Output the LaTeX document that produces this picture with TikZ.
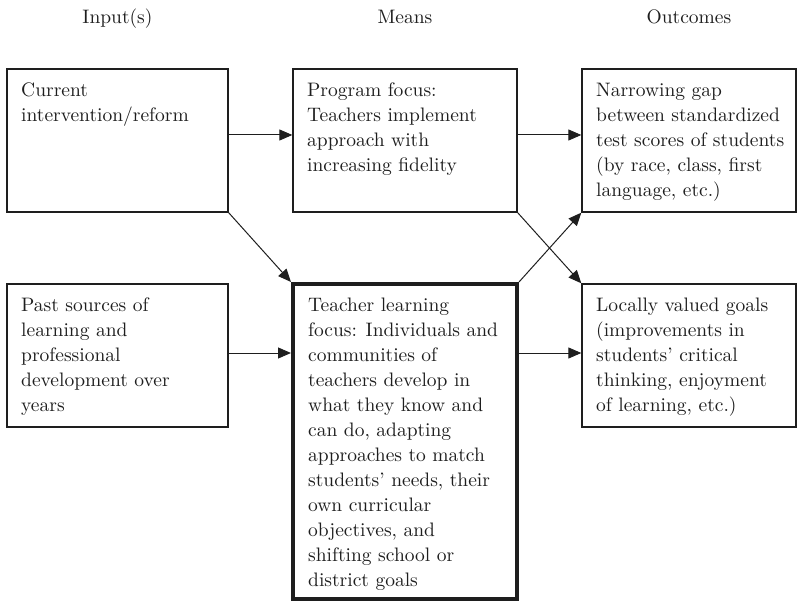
\documentclass[tikz,border=0pt]{standalone}
\usepackage{fontspec}
\setmainfont{lmroman10-regular.otf}
\usetikzlibrary{arrows.meta}
\definecolor{ink}{HTML}{1E1E1E}
\begin{document}
\begin{tikzpicture}[x=1pt,y=-1pt,
  txtfont/.style={font=\fontsize{19.5}{25}\selectfont, text=ink},
  box/.style={draw=ink, line width=1.3pt, inner sep=0pt},
  keybox/.style={draw=ink, line width=4pt, inner sep=0pt},
  txt/.style={txtfont, align=left, anchor=north west, inner sep=0pt},
  head/.style={txtfont, anchor=base, inner sep=0pt},
  arr/.style={draw=ink, line width=1pt, -{Triangle[length=13pt,width=11pt]}}]
\useasboundingbox (0,0) rectangle (800,609);

% column headings
\node[head] (h1) at (117.5,24) {Input(s)};
\node[head] (h2) at (405,24) {Means};
\node[head] (h3) at (689,24) {Outcomes};

% boxes
\node[box, minimum width=221pt, minimum height=143pt] (A) at (117.5,140.5) {};
\node[box, minimum width=224pt, minimum height=143pt] (B) at (405,140.5) {};
\node[box, minimum width=214pt, minimum height=143pt] (C) at (689,140.5) {};
\node[box, minimum width=221pt, minimum height=143pt] (D) at (117.5,355.5) {};
\node[keybox, minimum width=224pt, minimum height=315pt] (E) at (405,441.5) {};
\node[box, minimum width=214pt, minimum height=143pt] (F) at (689,355.5) {};

% box texts
\node[txt] (At) at (21,83) {Current\\intervention/reform};
\node[txt] (Bt) at (307,83) {Program focus:\\Teachers implement\\approach with\\increasing fidelity};
\node[txt] (Ct) at (596,83) {Narrowing gap\\between standardized\\test scores of students\\(by race, class, first\\language, etc.)};
\node[txt] (Dt) at (21,298) {Past sources of\\learning and\\professional\\development over\\years};
\node[txt] (Et) at (308,298) {Teacher learning\\focus: Individuals and\\communities of\\teachers develop in\\what they know and\\can do, adapting\\approaches to match\\students' needs, their\\own curricular\\objectives, and\\shifting school or\\district goals};
\node[txt] (Ft) at (596,298) {Locally valued goals\\(improvements in\\students' critical\\thinking, enjoyment\\of learning, etc.)};

% connectors
\coordinate (ta) at ([yshift=5.5pt]A.east);
\coordinate (td) at ([yshift=2.5pt]D.east);
\draw[arr] (ta) -- (ta -| B.west);
\draw[arr] (ta -| B.east) -- (ta -| C.west);
\draw[arr] (A.south east) -- (E.north west);
\draw[arr] (B.south east) -- (F.north west);
\draw[arr] (E.north east) -- (C.south west);
\draw[arr] (td) -- (td -| E.west);
\draw[arr] (td -| E.east) -- (td -| F.west);
\end{tikzpicture}
\end{document}
